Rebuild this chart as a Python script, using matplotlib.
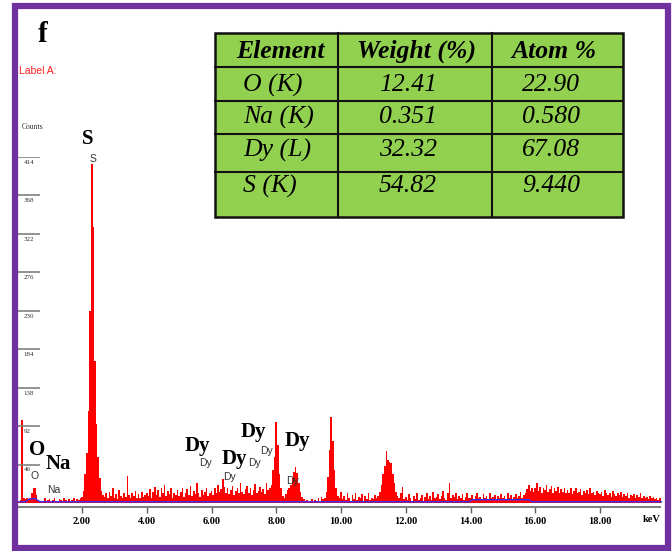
import numpy as np
import matplotlib
matplotlib.use("Agg")
import matplotlib.pyplot as plt
from matplotlib.patches import Rectangle
from matplotlib.lines import Line2D

# EDS spectrum, counts per 0.05 keV channel starting at 0.00 keV
counts = [
    0, 2, 4, 100, 6, 5, 6, 5, 7, 12, 19, 18, 10, 4, 3, 2, 3, 6, 3, 4,             # 0-1
    5, 3, 4, 6, 3, 2, 5, 4, 3, 7, 4, 3, 5, 2, 4, 6, 3, 5, 4, 6,                   # 1-2
    8, 15, 35, 60, 110, 230, 406, 330, 170, 95, 55, 30, 15, 10, 8, 12, 6, 14, 9, 18,  # 2-3
    7, 11, 5, 16, 9, 6, 13, 8, 33, 10, 6, 12, 9, 15, 7, 11, 6, 14, 8, 10,         # 3-4
    12, 9, 17, 7, 14, 20, 10, 16, 8, 19, 13, 22, 9, 15, 11, 18, 7, 13, 10, 16,    # 4-5
    9, 14, 19, 8, 12, 17, 10, 21, 9, 15, 11, 24, 13, 8, 16, 10, 14, 19, 9, 12,    # 5-6
    15, 10, 18, 12, 22, 14, 17, 29, 20, 13, 18, 11, 16, 21, 10, 15, 19, 12, 24, 14,  # 6-7
    11, 17, 21, 13, 18, 10, 16, 23, 12, 15, 20, 14, 17, 11, 25, 16, 19, 22, 40, 55,  # 7-8
    97, 70, 35, 18, 9, 6, 11, 16, 18, 22, 30, 38, 43, 36, 24, 14, 8, 5, 3, 4,     # 8-9
    2, 3, 5, 2, 4, 3, 6, 2, 8, 5, 6, 14, 32, 64, 103, 75, 40, 18, 9, 6,           # 9-10
    14, 5, 9, 4, 12, 6, 3, 10, 5, 13, 4, 8, 6, 11, 3, 9, 5, 12, 4, 7,             # 10-11
    5, 10, 6, 9, 14, 22, 35, 45, 63, 52, 50, 48, 35, 24, 14, 9, 6, 12, 20, 5,     # 11-12
    8, 4, 11, 6, 3, 9, 5, 13, 4, 7, 10, 3, 8, 12, 5, 9, 4, 14, 6, 8,              # 12-13
    11, 5, 9, 15, 7, 4, 12, 24, 6, 10, 8, 13, 5, 9, 7, 11, 4, 8, 12, 6,           # 13-14
    7, 10, 5, 9, 12, 6, 8, 4, 11, 7, 9, 5, 13, 6, 8, 10, 4, 9, 7, 11,             # 14-15
    6, 9, 4, 12, 7, 10, 5, 8, 11, 6, 9, 14, 7, 10, 12, 17, 22, 15, 19, 14,        # 15-16
    18, 24, 15, 20, 13, 19, 16, 22, 14, 17, 21, 12, 18, 15, 20, 13, 17, 14, 19, 12,  # 16-17
    16, 13, 18, 11, 15, 19, 12, 14, 17, 10, 15, 13, 16, 11, 18, 12, 14, 10, 15, 13,  # 17-18
    11, 14, 9, 16, 12, 10, 13, 8, 15, 11, 9, 12, 10, 14, 8, 11, 9, 13, 7, 10,     # 18-19
    9, 11, 7, 10, 8, 12, 6, 9, 7, 8, 5, 9, 6, 8, 5, 7, 4, 6,                      # 19-19.9
]
channel_kev = 0.05

# fitted background (blue line)
bg_kev = [0.05, 0.25, 0.35, 0.55, 0.70, 1.00, 13.95, 14.05, 15.80, 15.90, 19.90]
bg_counts = [2, 2, 5, 6, 2, 2, 2, 4.5, 4.5, 2, 2]

x_ticks = [2, 4, 6, 8, 10, 12, 14, 16, 18]
y_ticks = [46, 92, 138, 184, 230, 276, 322, 368, 414]

big_labels = ["S", "O", "Na", "Dy", "Dy", "Dy", "Dy"]
small_labels = ["S", "O", "Na", "Dy", "Dy", "Dy", "Dy", "Dy"]

tbl_header = ["Element", "Weight (%)", "Atom %"]
tbl_element = ["O (K)", "Na (K)", "Dy (L)", "S (K)"]
tbl_weight = ["12.41", "0.351", "32.32", "54.82"]
tbl_atom = ["22.90", "0.580", "67.08", "9.440"]

W, H = 672, 551
fig = plt.figure(figsize=(W / 100, H / 100), dpi=100)


def fx(x):
    return x / W


def fy(y):
    return 1 - y / H


# spectrum axes: 0 keV at x=17.25px, 32.375 px per keV; axis line at y=507
ax = fig.add_axes([fx(17.25), fy(507), 647.5 / W, 350 / H])
ax.set_xlim(0, 20)
ax.set_ylim(-4.2, 414)
ax.patch.set_alpha(0)

energy = np.arange(len(counts)) * channel_kev
ax.bar(energy, counts, width=channel_kev, color="#ff0000", linewidth=0)
ax.plot(bg_kev, bg_counts, color="#3030ff", lw=1)

for s in ["left", "right", "top"]:
    ax.spines[s].set_visible(False)
ax.spines["bottom"].set_color("#808080")
ax.spines["bottom"].set_linewidth(1.5)
ax.spines["bottom"].set_bounds(0.02, 19.85)
ax.set_yticks([])
ax.set_xticks(x_ticks)
ax.set_xticklabels([f"{t:.2f}" for t in x_ticks], family="Liberation Serif",
                   fontweight="bold", fontsize=7.5)
ax.tick_params(axis="x", direction="out", length=4, width=1, color="#606060", pad=3)
ax.text(19.6, -4.2 - 9.5, "keV", ha="center", va="top", family="Liberation Serif",
        fontweight="bold", fontsize=7.5)

# count markers at left
ax.hlines(y_ticks, 0.02, 0.7, color="#808080", lw=1.2)
for t in y_ticks:
    ax.text(0.2, t - 3, str(t), ha="left", va="top", fontsize=5,
            family="Liberation Serif", color="#333333")

# peak labels (keV, counts)
big_pos = [(2.18, 436), (0.61, 64), (1.26, 47), (5.55, 69), (6.70, 53), (7.28, 85), (8.64, 75)]
small_pos = [(2.34, 412), (0.55, 33), (1.14, 16), (5.83, 48), (6.57, 32), (7.34, 48),
             (7.71, 63), (8.49, 27)]
for lab, (x, y) in zip(big_labels, big_pos):
    ax.text(x, y, lab, ha="center", va="center", family="Liberation Serif",
            fontweight="bold", fontsize=15, clip_on=False)
for lab, (x, y) in zip(small_labels, small_pos):
    ax.text(x, y, lab, ha="center", va="center", family="Liberation Sans",
            fontsize=7.5, color="#333333", clip_on=False)

fig.text(fx(22), fy(127), "Counts", fontsize=5.5, family="Liberation Serif",
         color="#333333", va="center")
fig.text(fx(19), fy(71), "Label A:", fontsize=7.5, family="Liberation Sans",
         color="#ff2020", va="center")
fig.text(fx(43), fy(35), "f", fontsize=21, family="Liberation Serif",
         fontweight="bold", ha="center", va="center")

# table
cols = [215, 338, 492, 623]
rows = [33, 67, 101, 134, 172, 217]
fig.patches.append(Rectangle((fx(cols[0]), fy(rows[-1])), (cols[-1] - cols[0]) / W,
                             (rows[-1] - rows[0]) / H, transform=fig.transFigure,
                             facecolor="#92d050", edgecolor="#111111", lw=1.8))
for c in cols[1:-1]:
    fig.lines.append(Line2D([fx(c), fx(c)], [fy(rows[0]), fy(rows[-1])],
                            transform=fig.transFigure, color="#111111", lw=1.5))
for r in rows[1:-1]:
    fig.lines.append(Line2D([fx(cols[0]), fx(cols[-1])], [fy(r), fy(r)],
                            transform=fig.transFigure, color="#111111", lw=1.5))

hx = [280, 417, 554]
for x, t in zip(hx, tbl_header):
    fig.text(fx(x), fy(51), t, ha="center", va="center", family="Liberation Serif",
             style="italic", fontweight="bold", fontsize=18.5)
row_y = [85, 117, 150, 186]
for y, e, w, a in zip(row_y, tbl_element, tbl_weight, tbl_atom):
    fig.text(fx(243), fy(y), e, ha="left", va="center", family="Liberation Serif",
             style="italic", fontsize=18.5)
    fig.text(fx(408), fy(y), w, ha="center", va="center", family="Liberation Serif",
             style="italic", fontsize=18.5)
    fig.text(fx(551), fy(y), a, ha="center", va="center", family="Liberation Serif",
             style="italic", fontsize=18.5)

# purple frame
fig.patches.append(Rectangle((fx(15), fy(548)), (668 - 15) / W, (548 - 6) / H,
                             transform=fig.transFigure, fill=False,
                             edgecolor="#7030a0", lw=4.5))

fig.savefig("out.png", dpi=100)
